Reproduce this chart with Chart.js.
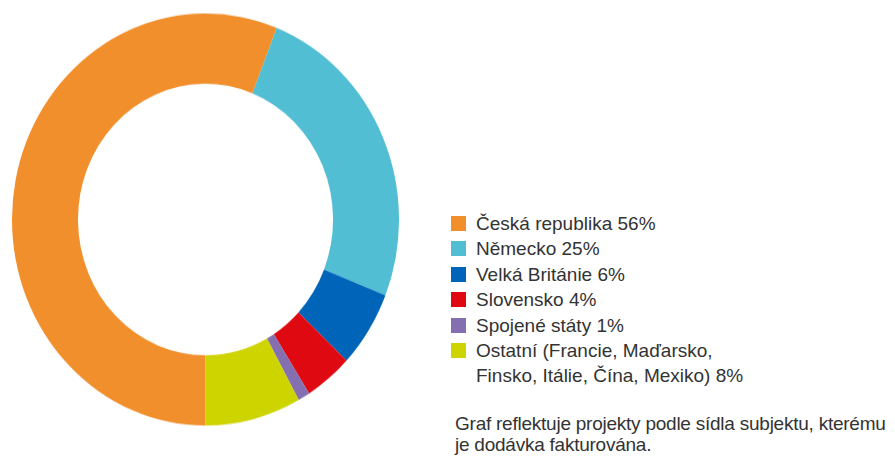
<!DOCTYPE html>
<html lang="cs">
<head>
<meta charset="utf-8">
<title>Projekty podle sídla subjektu</title>
<script src="https://cdn.jsdelivr.net/npm/chart.js@4/dist/chart.umd.min.js"></script>
<style>
    html, body {
        margin: 0;
        padding: 0;
        background: #ffffff;
    }
    #page {
        position: relative;
        width: 895px;
        height: 460px;
        overflow: hidden;
        font-family: "Liberation Sans", Arial, Helvetica, sans-serif;
        color: #333333;
    }
    #donut-wrap {
        position: absolute;
        left: 12px;
        top: 26px;
        width: 387px;
        height: 387px;
        transform: scaleY(1.0646);
        transform-origin: 50% 50%;
    }
    #legend {
        position: absolute;
        left: 451px;
        top: 211px;
        font-size: 19px;
        line-height: 25.4px;
    }
    .legend-row {
        position: relative;
        padding-left: 25px;
        white-space: nowrap;
    }
    .legend-box {
        position: absolute;
        left: 0;
        top: 5px;
        width: 15px;
        height: 15px;
    }
    #note {
        position: absolute;
        left: 455px;
        top: 414px;
        font-size: 19px;
        line-height: 20.5px;
        letter-spacing: -0.24px;
        white-space: nowrap;
    }
</style>
</head>
<body>
<div id="page">
    <div id="donut-wrap"><canvas id="donut" width="387" height="387"></canvas></div>
    <div id="legend"></div>
    <div id="note">Graf reflektuje projekty podle sídla subjektu, kterému<br>je dodávka fakturována.</div>
</div>
<script>
// Share of projects by the seat of the invoiced party (%)
const countries = [
    ["Česká republika"],
    ["Německo"],
    ["Velká Británie"],
    ["Slovensko"],
    ["Spojené státy"],
    ["Ostatní (Francie, Maďarsko,", "Finsko, Itálie, Čína, Mexiko)"]
];
const shares = [56, 25, 6, 4, 1, 8];
const colors = ["#F18F2D", "#52BED4", "#0065B9", "#DF0A11", "#8470B0", "#CED400"];

document.addEventListener("DOMContentLoaded", () => {
    const ctx = document.getElementById("donut").getContext("2d");

    new Chart(ctx, {
        type: "doughnut",
        data: {
            labels: countries.map(c => c.join(" ")),
            datasets: [{
                data: shares,
                backgroundColor: colors,
                borderWidth: 0,
                hoverOffset: 0
            }]
        },
        options: {
            responsive: false,
            animation: false,
            rotation: 180,
            cutout: "65.9%",
            layout: { padding: 0 },
            plugins: {
                legend: { display: false },
                tooltip: { enabled: false }
            }
        }
    });

    // Legend on the right, one row per country, last entry wraps onto two lines
    const legend = document.getElementById("legend");
    countries.forEach((lines, i) => {
        const row = document.createElement("div");
        row.className = "legend-row";

        const box = document.createElement("span");
        box.className = "legend-box";
        box.style.background = colors[i];
        row.appendChild(box);

        const text = lines.slice();
        text[text.length - 1] += " " + shares[i] + "%";
        text.forEach((line, j) => {
            if (j > 0) row.appendChild(document.createElement("br"));
            row.appendChild(document.createTextNode(line));
        });

        legend.appendChild(row);
    });
});
</script>
</body>
</html>
